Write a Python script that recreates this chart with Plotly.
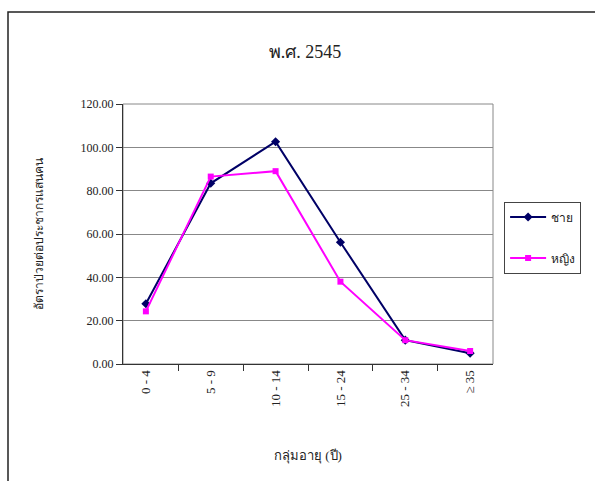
import plotly.graph_objects as go

# Age groups and incidence rates (per 100,000 population), 2545 B.E.
age_groups = ["0 - 4", "5 - 9", "10 - 14", "15 - 24", "25 - 34", "≥ 35"]
male_rate = [27.8, 83.4, 102.6, 56.2, 11.0, 5.0]
female_rate = [24.3, 86.5, 89.0, 38.0, 11.0, 6.0]

title_text = "พ.ศ. 2545"
x_title = "กลุ่มอายุ (ปี)"
y_title = "อัตราป่วยต่อประชากรแสนคน"
male_name = "ชาย"
female_name = "หญิง"

FONT = "Times New Roman, Liberation Serif, DejaVu Serif, serif"

fig = go.Figure()
fig.add_trace(go.Scatter(
    x=age_groups, y=male_rate, name=male_name, mode="lines+markers",
    line=dict(color="#000066", width=2),
    marker=dict(symbol="diamond", size=7, color="#000066"),
    legendgroup="m",
))
fig.add_trace(go.Scatter(
    x=age_groups, y=female_rate, name=female_name, mode="lines+markers",
    line=dict(color="#FF00FF", width=2),
    marker=dict(symbol="square", size=6, color="#FF00FF"),
    legendgroup="f",
))

fig.update_layout(
    width=595, height=481,
    margin=dict(l=123, r=102, t=104, b=117),
    paper_bgcolor="white", plot_bgcolor="white",
    font=dict(family=FONT, size=12, color="#222222"),
    title=dict(text=title_text, x=305 / 595, xanchor="center",
               y=1 - 52 / 481, yanchor="middle",
               font=dict(family=FONT, size=18, color="#222222")),
    showlegend=True,
    legend=dict(x=1.03, y=0.625, xanchor="left", yanchor="top",
                bordercolor="#444444", borderwidth=1, bgcolor="white",
                tracegroupgap=22, font=dict(family=FONT, size=12),
                itemwidth=36),
    xaxis=dict(
        type="category", tickangle=-90, showgrid=False,
        showline=True, linecolor="#333333", linewidth=1,
        ticks="outside", tickson="boundaries", ticklen=6, tickcolor="#333333",
        title=dict(text=x_title, standoff=44, font=dict(family=FONT, size=13)),
        tickfont=dict(family=FONT, size=13, color="#222222"),
    ),
    yaxis=dict(
        range=[0, 120], dtick=20, tickformat=".2f",
        showgrid=True, gridcolor="#888888", gridwidth=1,
        showline=True, linecolor="#333333", linewidth=1,
        ticks="outside", ticklen=6, tickcolor="#333333",
        title=dict(text=y_title, standoff=34, font=dict(family=FONT, size=12)),
        tickfont=dict(family=FONT, size=12, color="#222222"),
        zeroline=False,
    ),
    shapes=[
        # plot area frame (top and right edges)
        dict(type="rect", xref="paper", yref="paper", x0=0, x1=1, y0=0, y1=1,
             line=dict(color="#888888", width=1), layer="below"),
        # outer chart frame
        dict(type="rect", xref="paper", yref="paper",
             x0=-115 / 370, x1=(600 - 123) / 370, y0=-125 / 260, y1=(364 - 12) / 260,
             line=dict(color="#222222", width=1.5)),
    ],
)

fig.write_html("out.html")
